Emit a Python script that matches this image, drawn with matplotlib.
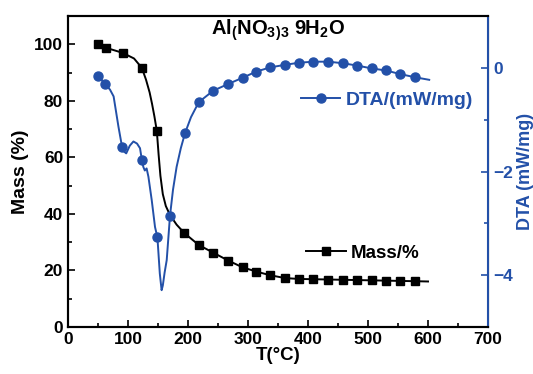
import matplotlib
matplotlib.use("Agg")
import matplotlib.pyplot as plt
from matplotlib.ticker import MultipleLocator

plt.rcParams['font.family'] = ['Liberation Sans', 'DejaVu Sans']
plt.rcParams['font.weight'] = 'bold'
plt.rcParams['mathtext.fontset'] = 'custom'
plt.rcParams['mathtext.rm'] = 'Liberation Sans:bold'
plt.rcParams['mathtext.it'] = 'Liberation Sans:bold'
plt.rcParams['mathtext.bf'] = 'Liberation Sans:bold'

BLUE = '#2350a8'

# --- Mass (%) : marker points ---
mass_T = [50, 63, 91, 123, 148, 194, 218, 242, 267, 291, 314, 337, 362, 385,
          409, 434, 458, 482, 506, 530, 554, 578]
mass_pct = [100, 98.8, 97.0, 91.7, 69.4, 33.2, 29.0, 26.3, 23.5, 21.1, 19.6,
            18.3, 17.3, 17.0, 16.9, 16.8, 16.7, 16.6, 16.5, 16.4, 16.3, 16.2]
# trace of the mass curve between the markers
mass_line_T = [50, 63, 91, 110, 123, 130, 136, 140, 144, 148, 151, 154, 158,
               163, 170, 181, 194, 218, 242, 267, 291, 314, 337, 362, 385, 409,
               434, 458, 482, 506, 530, 554, 578, 600]
mass_line_pct = [100, 98.8, 97.0, 95.0, 91.7, 87.5, 83.0, 79.0, 74.5, 69.4,
                 61.0, 53.5, 47.0, 42.8, 39.6, 36.2, 33.2, 29.0, 26.3, 23.5,
                 21.1, 19.6, 18.3, 17.3, 17.0, 16.9, 16.8, 16.7, 16.6, 16.5,
                 16.4, 16.3, 16.2, 16.1]

# --- DTA (mW/mg) : marker points ---
dta_T = [50, 62, 90, 123, 149, 170, 195, 218, 242, 267, 291, 314, 337, 362,
         385, 409, 434, 458, 482, 506, 530, 554, 578]
dta_val = [-0.15, -0.31, -1.52, -1.77, -3.27, -2.85, -1.26, -0.66, -0.44,
           -0.31, -0.19, -0.07, 0.01, 0.06, 0.10, 0.12, 0.12, 0.09, 0.045,
           -0.01, -0.05, -0.12, -0.18]
# trace of the DTA curve between the markers
dta_line_T = [50, 62, 70, 76, 84, 90, 94, 97, 103, 109, 115, 120, 123, 125.5,
              128, 131, 134, 139.5, 145, 149, 153, 156, 158, 161, 164.5, 170,
              175, 181, 188, 195, 205, 218, 242, 267, 291, 314, 337, 362, 385,
              409, 434, 458, 482, 506, 530, 554, 578, 602]
dta_line_val = [-0.15, -0.31, -0.42, -0.55, -1.13, -1.52, -1.62, -1.65, -1.50,
                -1.42, -1.46, -1.55, -1.77, -1.91, -1.98, -1.94, -2.10, -2.55,
                -3.07, -3.27, -3.97, -4.29, -4.20, -3.95, -3.71, -2.85, -2.35,
                -1.91, -1.55, -1.26, -0.95, -0.66, -0.44, -0.31, -0.19, -0.07,
                0.01, 0.06, 0.10, 0.12, 0.12, 0.09, 0.045, -0.01, -0.05,
                -0.12, -0.18, -0.23]

fig = plt.figure(figsize=(5.33, 3.74), dpi=100)
ax = fig.add_axes([0.1276, 0.1257, 0.7880, 0.8313])
ax2 = ax.twinx()

# mass curve
ax.plot(mass_line_T, mass_line_pct, color='black', lw=1.4, zorder=2)
ax.plot(mass_T, mass_pct, ls='none', marker='s', ms=5.5, color='black', zorder=3)
mass_handle, = ax.plot([], [], color='black', lw=1.4, marker='s', ms=5.5)

# DTA curve
ax2.plot(dta_line_T, dta_line_val, color=BLUE, lw=1.4, zorder=2)
ax2.plot(dta_T, dta_val, ls='none', marker='o', ms=6.5, color=BLUE, zorder=3)
dta_handle, = ax2.plot([], [], color=BLUE, lw=1.4, marker='o', ms=6.5)

ax.set_xlim(0, 700)
ax.set_ylim(0, 110)
ax2.set_ylim(-5, 1)

ax.xaxis.set_major_locator(MultipleLocator(100))
ax.xaxis.set_minor_locator(MultipleLocator(50))
ax.yaxis.set_major_locator(MultipleLocator(20))
ax.yaxis.set_minor_locator(MultipleLocator(10))
ax2.yaxis.set_major_locator(MultipleLocator(2))
ax2.yaxis.set_minor_locator(MultipleLocator(1))

ax.tick_params(which='both', direction='in', labelsize=12.5, width=1.2)
ax.tick_params(which='major', length=5)
ax.tick_params(which='minor', length=3)
ax.tick_params(axis='x', which='both', top=False)
ax2.tick_params(which='both', direction='in', labelsize=12.5, width=1.2,
                colors=BLUE)
ax2.tick_params(which='major', length=5)
ax2.tick_params(which='minor', length=3)

for s in ['left', 'bottom', 'top']:
    ax.spines[s].set_linewidth(1.5)
ax2.spines['right'].set_color(BLUE)
ax2.spines['right'].set_linewidth(1.5)
ax2.spines['left'].set_linewidth(1.5)
ax2.spines['top'].set_linewidth(1.5)
ax2.spines['bottom'].set_linewidth(1.5)

ax.set_xlabel('T(°C)', fontsize=13.5, fontweight='bold', labelpad=0)
ax.set_ylabel('Mass (%)', fontsize=14, fontweight='bold', labelpad=4)
ax2.set_ylabel('DTA (mW/mg)', fontsize=13, fontweight='bold', color=BLUE,
               labelpad=3)

ax.text(0.5, 0.955, r'Al$_($NO$_3$$_)$$_3$ 9H$_2$O', transform=ax.transAxes,
        ha='center', va='center', fontsize=14.5, fontweight='bold')

leg1 = ax2.legend([dta_handle], ['DTA/(mW/mg)'], loc='center left',
                  bbox_to_anchor=(0.555, 0.73), frameon=False, fontsize=14,
                  handlelength=2.0, handletextpad=0.3, borderpad=0,
                  borderaxespad=0)
for t in leg1.get_texts():
    t.set_color(BLUE)
ax2.add_artist(leg1)
ax2.legend([mass_handle], ['Mass/%'], loc='center left',
           bbox_to_anchor=(0.567, 0.238), frameon=False, fontsize=13.5,
           handlelength=2.1, handletextpad=0.3, borderpad=0, borderaxespad=0)

fig.savefig('out.png', dpi=100)
